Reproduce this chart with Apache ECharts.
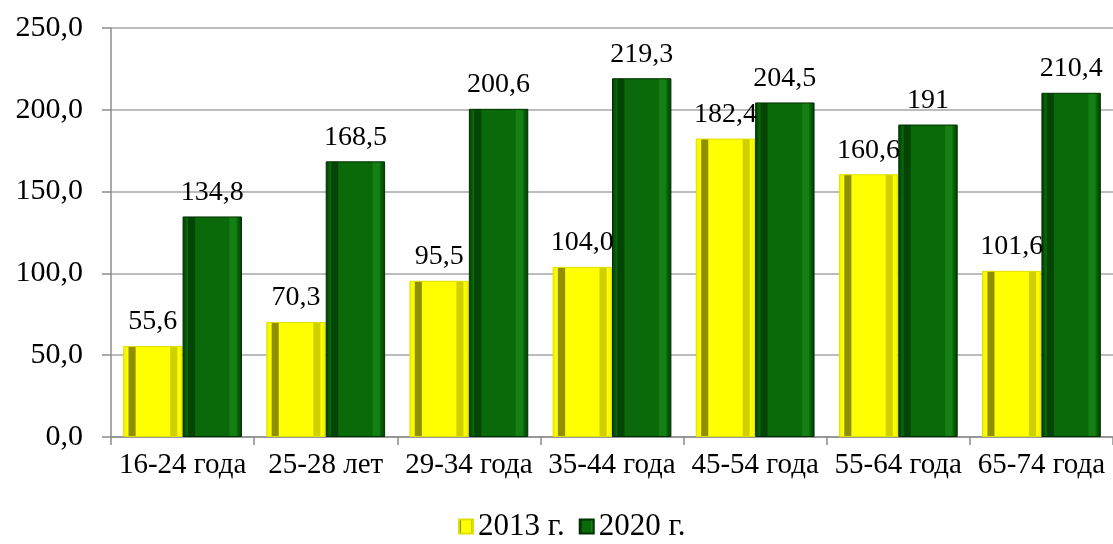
<!DOCTYPE html>
<html>
<head>
<meta charset="utf-8">
<script src="https://cdn.jsdelivr.net/npm/echarts@6/dist/echarts.min.js"></script>
<style>
  html, body { margin: 0; padding: 0; background: #fff; }
  #chart { width: 1113px; height: 544px; }
</style>
</head>
<body>
<div id="chart"></div>
<script>
var categories = ['16-24 года', '25-28 лет', '29-34 года', '35-44 года', '45-54 года', '55-64 года', '65-74 года'];
var values2013 = [55.6, 70.3, 95.5, 104.0, 182.4, 160.6, 101.6];
var values2020 = [134.8, 168.5, 200.6, 219.3, 204.5, 191, 210.4];
var seriesNames = ['2013 г.', '2020 г.'];

var FONT = '"Liberation Serif", "DejaVu Serif", serif';

// horizontal gradient to fake the bevelled bar frame
function bevel(edge, face, dark, light) {
    return new echarts.graphic.LinearGradient(0, 0, 1, 0, [
        { offset: 0, color: edge },
        { offset: 0.08, color: face },
        { offset: 0.1, color: dark },
        { offset: 0.2, color: dark },
        { offset: 0.22, color: face },
        { offset: 0.78, color: face },
        { offset: 0.8, color: light },
        { offset: 0.9, color: light },
        { offset: 0.92, color: face },
        { offset: 1, color: edge }
    ]);
}

var chart = echarts.init(document.getElementById('chart'));
chart.setOption({
    animation: false,
    textStyle: { fontFamily: FONT },
    grid: {
        left: 111,
        right: -7,
        top: 28,
        bottom: 107
    },
    legend: {
        bottom: -3,
        left: 453,
        itemWidth: 14,
        itemHeight: 14,
        itemGap: 14,
        icon: 'rect',
        textStyle: { fontFamily: FONT, fontSize: 31, color: '#000' },
        data: seriesNames
    },
    xAxis: {
        type: 'category',
        data: categories,
        axisLine: { lineStyle: { color: '#8c8c8c', width: 1.5 } },
        axisTick: { show: true, length: 8, lineStyle: { color: '#8c8c8c', width: 1.5 } },
        axisLabel: { fontFamily: FONT, fontSize: 29, color: '#000', margin: 14, interval: 0 }
    },
    yAxis: {
        type: 'value',
        min: 0,
        max: 250,
        interval: 50,
        axisLine: { show: true, lineStyle: { color: '#8c8c8c', width: 1.5 } },
        axisTick: { show: true, length: 9, lineStyle: { color: '#8c8c8c', width: 1.5 } },
        splitLine: { lineStyle: { color: '#a6a6a6', width: 1.5 } },
        axisLabel: {
            fontFamily: FONT, fontSize: 30, color: '#000', margin: 28,
            formatter: function (v) { return v.toFixed(1).replace('.', ','); }
        }
    },
    series: [
        {
            name: seriesNames[0],
            type: 'bar',
            data: values2013,
            barGap: '0%',
            barCategoryGap: '17%',
            itemStyle: {
                color: bevel('#f0f000', '#ffff00', '#8f8f00', '#d0d000'),
                borderColor: '#e0e000',
                borderWidth: 1
            },
            label: {
                show: true,
                position: 'top',
                distance: 10,
                fontFamily: FONT,
                fontSize: 28,
                color: '#000',
                formatter: function (p) { return p.value.toFixed(1).replace('.', ','); }
            }
        },
        {
            name: seriesNames[1],
            type: 'bar',
            data: values2020,
            itemStyle: {
                color: bevel('#003a00', '#0a6a0a', '#044404', '#148014'),
                borderColor: '#003000',
                borderWidth: 1
            },
            label: {
                show: true,
                position: 'top',
                distance: 10,
                fontFamily: FONT,
                fontSize: 28,
                color: '#000',
                formatter: function (p) { return String(p.value).replace('.', ','); }
            }
        }
    ]
});
</script>
</body>
</html>
